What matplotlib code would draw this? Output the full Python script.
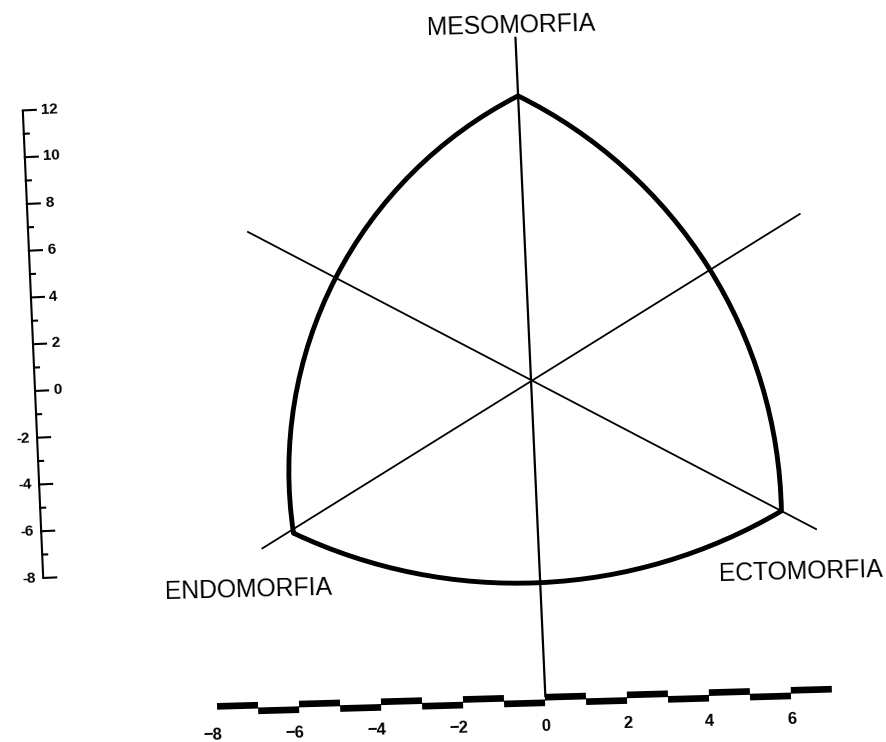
import numpy as np
import matplotlib.pyplot as plt
from matplotlib.path import Path
from matplotlib.patches import PathPatch
from matplotlib.transforms import Affine2D

W, H = 887, 742

# somatochart corners: X = ecto - endo, Y = 2*meso - (endo + ecto)
corner_labels = ["ENDOMORFIA", "MESOMORFIA", "ECTOMORFIA"]
corner_x = [-6.0, 0.0, 6.0]
corner_y = [-6.0, 12.0, -6.0]

# one point: left, bottom, right
side_x = [-4.75, -0.03, 4.53]
side_y = [4.47, -8.56, 4.26]

# the three straight lines crossing at the centre (start, end)
line_x = [(-6.8, 6.85), (-6.8, 6.8), (0.0, 0.0)]
line_y = [(6.8, -6.85), (-6.6, 6.5), (14.5, -13.4)]

# left vertical scale
left_major = [-8, -6, -4, -2, 0, 2, 4, 6, 8, 10, 12]
left_minor = [-7, -5, -3, -1, 1, 3, 5, 7, 9, 11]

# bottom stepped scale
bottom_labels = [-8, -6, -4, -2, 0, 2, 4, 6]
bottom_blocks = [-8, -7, -6, -5, -4, -3, -2, -1, 0, 1, 2, 3, 4, 5, 6]

NARROW = ["Liberation Sans Narrow", "Liberation Sans", "DejaVu Sans"]
SX, SY = 40.7, 23.7  # px per chart unit


def tilt(ax, deg, px, py):
    # the scanned page is turned a little, rotate around a pixel point
    return ax.transData + Affine2D().rotate_deg_around(px, H - py, deg)


def arc_through(p1, pm, p2):
    # circle through three chart points, worked out in pixel-square space
    a, b, c = [np.array([p[0] * SX, p[1] * SY]) for p in (p1, pm, p2)]
    d = 2 * (a[0] * (b[1] - c[1]) + b[0] * (c[1] - a[1]) + c[0] * (a[1] - b[1]))
    ux = ((a @ a) * (b[1] - c[1]) + (b @ b) * (c[1] - a[1]) + (c @ c) * (a[1] - b[1])) / d
    uy = ((a @ a) * (c[0] - b[0]) + (b @ b) * (a[0] - c[0]) + (c @ c) * (b[0] - a[0])) / d
    r = np.hypot(*(a - [ux, uy]))
    t1 = np.degrees(np.arctan2(a[1] - uy, a[0] - ux))
    t2 = np.degrees(np.arctan2(c[1] - uy, c[0] - ux))
    p = Path.arc(t1, t2)
    return p.transformed(Affine2D().scale(r / SX, r / SY).translate(ux / SX, uy / SY))


fig = plt.figure(figsize=(W / 100, H / 100), dpi=100)
fig.patch.set_facecolor("white")

## main chart -- centre at pixel (531, 380)
ax = fig.add_axes([0, 0, 1, 1])
ax.set_autoscale_on(False)
ax.set_xlim(-531 / SX, (W - 531) / SX)
ax.set_ylim(-(H - 380) / SY, 380 / SY)
ax.axis("off")
tr = tilt(ax, 2.6, 531, 380)

A = (corner_x[1], corner_y[1])
E = (corner_x[0], corner_y[0])
T = (corner_x[2], corner_y[2])
sides = [arc_through(A, (side_x[0], side_y[0]), E),
         arc_through(E, (side_x[1], side_y[1]), T),
         arc_through(T, (side_x[2], side_y[2]), A)]
verts, codes = [], []
for p in sides:
    c = np.array(p.codes)
    if codes:
        c[0] = Path.LINETO
    verts.append(p.vertices)
    codes.append(c)
verts.append([[0, 0]])
codes.append([Path.CLOSEPOLY])
outline = Path(np.concatenate(verts), np.concatenate(codes))
ax.add_patch(PathPatch(outline, transform=tr, fill=False, ec="black",
                       lw=3.5, joinstyle="round"))

for xs, ys, lw in zip(line_x, line_y, [1.3, 1.3, 1.6]):
    ax.plot(xs, ys, color="black", lw=lw, transform=tr, solid_capstyle="butt")

label_pos = [(-7.18, -8.31), (-0.1, 14.95), (6.41, -8.61)]
for name, (lx, ly) in zip(corner_labels, label_pos):
    ax.text(lx, ly, name, transform=tr, fontsize=17.8, family="Liberation Sans",
            ha="center", va="center", rotation=1.5, rotation_mode="anchor")

## left scale -- x in pixels, 23.4 px per unit, 0 at pixel row 391
axl = fig.add_axes([0, 0, 1, 1])
axl.set_autoscale_on(False)
axl.set_xlim(0, W)
axl.set_ylim(-(H - 391) / 23.4, 391 / 23.4)
axl.axis("off")
trl = tilt(axl, 2.5, 33, 344)
x0 = 33
axl.plot([x0, x0], [min(left_major), max(left_major)], color="black", lw=1.5,
         transform=trl, solid_capstyle="butt")
for v in left_major:
    axl.plot([x0, x0 + 13], [v, v], color="black", lw=1.5, transform=trl)
    if v >= 0:
        axl.text(x0 + 18, v, str(v), transform=trl, ha="left", va="center",
                 fontsize=11, fontweight="bold", family=NARROW, rotation=2.5,
                 rotation_mode="anchor")
    else:
        axl.text(x0 - 7, v, str(v), transform=trl, ha="right", va="center",
                 fontsize=11, fontweight="bold", family=NARROW, rotation=2.5,
                 rotation_mode="anchor")
for v in left_minor:
    axl.plot([x0, x0 + 5], [v, v], color="black", lw=1.5, transform=trl)

## bottom stepped scale -- y in pixels, 41 px per unit, 0 at pixel column 545
axb = fig.add_axes([0, 0, 1, 1])
axb.set_autoscale_on(False)
axb.set_xlim(-545 / 41.0, (W - 545) / 41.0)
axb.set_ylim(0, H)
axb.axis("off")
base = H - 700
trb = tilt(axb, 1.6, 545, 700)
for k in bottom_blocks:
    dy = 2.8 if k % 2 == 0 else -2.8
    axb.plot([k, k + 1], [base + dy, base + dy], color="black", lw=4.8,
             transform=trb, solid_capstyle="butt")
for v in bottom_labels:
    shift = -0.13 if v < 0 else 0.0
    axb.text(v + shift, base - 26, str(v).replace("-", "\u2212"), transform=trb,
             ha="center", va="center", fontsize=12, fontweight="bold",
             family=NARROW, rotation=1.6, rotation_mode="anchor")

fig.savefig("out.png", dpi=100)
